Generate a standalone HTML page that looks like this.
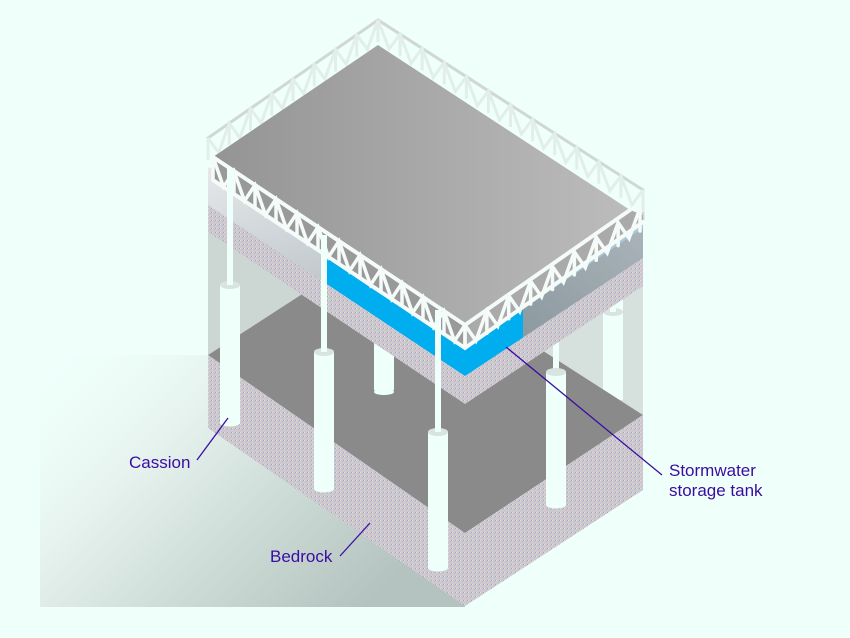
<!DOCTYPE html>
<html><head><meta charset="utf-8"><style>
html,body{margin:0;padding:0;background:#effffa;}
svg{display:block}
text{font-family:"Liberation Sans",sans-serif;font-size:17px;fill:#3a0ca3;}
</style></head><body>
<svg id="s" width="850" height="638" viewBox="0 0 850 638" xmlns="http://www.w3.org/2000/svg">
<defs>
<linearGradient id="sh" x1="0" y1="0" x2="1" y2="0.6">
<stop offset="0" stop-color="#effffa" stop-opacity="0"/>
<stop offset="0.35" stop-color="#e6f3ee"/>
<stop offset="1" stop-color="#b4c3bf"/>
</linearGradient>
<linearGradient id="roof" x1="0" y1="0" x2="1" y2="0">
<stop offset="0" stop-color="#949494"/><stop offset="1" stop-color="#bcbcbc"/>
</linearGradient>
<linearGradient id="lf" x1="0" y1="0" x2="0.4" y2="1">
<stop offset="0" stop-color="#e6e8ea"/><stop offset="1" stop-color="#a9b6bb"/>
</linearGradient>
<linearGradient id="rf" x1="1" y1="0" x2="0" y2="1">
<stop offset="0" stop-color="#aab4ba"/><stop offset="1" stop-color="#808e95"/>
</linearGradient>
<pattern id="sp" width="4" height="4" patternUnits="userSpaceOnUse">
<rect width="4" height="4" fill="#cdc8d2"/>
<rect x="0" y="0" width="1" height="1" fill="#e4e0b8"/>
<rect x="2" y="1" width="1" height="1" fill="#b4c0e0"/>
<rect x="1" y="2" width="1" height="1" fill="#e0bcd4"/>
<rect x="3" y="3" width="1" height="1" fill="#bcd4bc"/>
<rect x="3" y="0" width="1" height="1" fill="#a8a4b0"/>
</pattern>
</defs>
<rect x="40" y="355" width="425" height="252" fill="url(#sh)"/>
<polygon points="208,170 378,58 378,245 208,355" fill="#ccd7d3"/>
<polygon points="378,58 643,228 643,415 378,245" fill="#d6e1dd"/>
<rect x="603" y="300" width="20" height="100" fill="#effffa"/>
<ellipse cx="613" cy="312" rx="10" ry="4" fill="#d8e4e0"/>
<rect x="610" y="290" width="6" height="22" fill="#effffa"/>
<polygon points="208,355 378,245 643,415 465,533" fill="#8a8a8a"/>
<polygon points="208,355 465,533 465,606 208,428" fill="url(#sp)"/>
<polygon points="465,533 643,415 643,490 465,606" fill="url(#sp)"/>
<rect x="374" y="330" width="20" height="62" rx="3" fill="#effffa"/>
<ellipse cx="384" cy="392" rx="10" ry="3" fill="#effffa"/>
<rect x="553" y="330" width="6" height="42" fill="#effffa"/>
<rect x="546" y="372" width="20" height="133" fill="#effffa"/>
<ellipse cx="556" cy="505" rx="10" ry="3.5" fill="#effffa"/>
<ellipse cx="556" cy="372" rx="10" ry="4" fill="#d8e4e0"/>
<rect x="220" y="285" width="20" height="138" fill="#effffa"/>
<ellipse cx="230" cy="423" rx="10" ry="3.5" fill="#effffa"/>
<ellipse cx="230" cy="285" rx="10" ry="4" fill="#d8e4e0"/>
<rect x="314" y="352" width="20" height="137" fill="#effffa"/>
<ellipse cx="324" cy="489" rx="10" ry="3.5" fill="#effffa"/>
<ellipse cx="324" cy="352" rx="10" ry="4" fill="#d8e4e0"/>
<rect x="428" y="432" width="20" height="136" fill="#effffa"/>
<ellipse cx="438" cy="568" rx="10" ry="3.5" fill="#effffa"/>
<ellipse cx="438" cy="432" rx="10" ry="4" fill="#d8e4e0"/>
<polygon points="208,167 465,340 465,378 208,205" fill="url(#lf)"/>
<polygon points="327,248 465,340 465,380 327,287" fill="#00aeef"/>
<polygon points="327,246 465,338 465,346 327,256" fill="#a8d4e8"/>
<polygon points="208,205 465,376 465,404 208,232" fill="url(#sp)"/>
<polygon points="465,340 643,222 643,258 465,378" fill="url(#rf)"/>
<polygon points="465,340 523,301 523,340 465,380" fill="#00aeef"/>
<polygon points="465,338 643,220 643,228 465,348" fill="#a8cad8"/>
<polygon points="465,376 643,258 643,286 465,404" fill="url(#sp)"/>
<g id="bt" stroke="#e2eeea" stroke-width="3" fill="none">
<polyline points="208,160 208,138 378,20 643,190 643,222" stroke="#d0d8d6" stroke-width="3"/>
</g>
<polygon points="213,157 378,45 630,210 465,325" fill="url(#roof)"/>
<polygon points="213,157 465,325 465,348 213,180" fill="#999"/>
<polygon points="465,325 630,210 643,215 643,222 465,348" fill="#aaa"/>
<g id="ft" stroke="#f4fbf9" stroke-width="4" fill="none" stroke-linecap="round">
<polyline points="213,157 465,325 630,210"/>
<polyline points="213,180 465,348 643,222"/>
</g>
<rect x="227" y="168" width="6" height="117" fill="#effffa"/>
<rect x="321" y="235" width="6" height="117" fill="#effffa"/>
<rect x="435" y="310" width="6" height="122" fill="#effffa"/>
<line x1="197" y1="460" x2="228" y2="418" stroke="#3a0ca3" stroke-width="1.3"/>
<text x="129" y="468">Cassion</text>
<line x1="340" y1="556" x2="370" y2="523" stroke="#3a0ca3" stroke-width="1.3"/>
<text x="270" y="562">Bedrock</text>
<line x1="506" y1="347" x2="662" y2="475" stroke="#3a0ca3" stroke-width="1.3"/>
<text x="669" y="476">Stormwater</text>
<text x="669" y="496">storage tank</text>
</svg>
<script>
(function(){
var ns="http://www.w3.org/2000/svg";
function zig(g,x1,y1,x2,y2,h,n,col,w){
 var d="";
 for(var i=0;i<=n;i++){
  var t=i/n,x=x1+(x2-x1)*t,y=y1+(y2-y1)*t;
  if(i%2==0){d+=(i?"L":"M")+x+","+y;}else{d+="L"+x+","+(y+h);}
 }
 var p=document.createElementNS(ns,"path");p.setAttribute("d",d);
 p.setAttribute("stroke",col);p.setAttribute("stroke-width",w);p.setAttribute("fill","none");
 g.appendChild(p);
 for(var i=0;i<=n;i+=2){
  var t=i/n,x=x1+(x2-x1)*t,y=y1+(y2-y1)*t;
  var l=document.createElementNS(ns,"line");
  l.setAttribute("x1",x);l.setAttribute("y1",y);l.setAttribute("x2",x);l.setAttribute("y2",y+h);
  l.setAttribute("stroke",col);l.setAttribute("stroke-width",w);g.appendChild(l);
 }
}
var ft=document.getElementById("ft"),bt=document.getElementById("bt");
zig(ft,213,157,465,325,23,24,"#f4fbf9",3.5);
zig(ft,465,325,640,208,23,16,"#f4fbf9",3.5);
zig(bt,208,138,378,20,22,16,"#e2eeea",3);
zig(bt,378,20,643,190,22,24,"#e2eeea",3);
})();
</script>
</body></html>
